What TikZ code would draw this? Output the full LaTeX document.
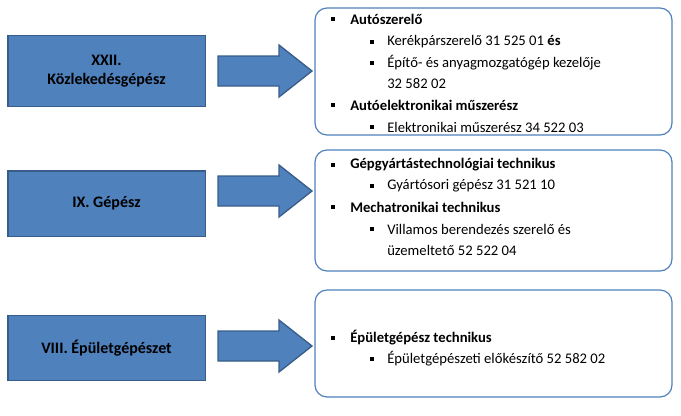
\documentclass[tikz,border=0pt]{standalone}
\usepackage{fontspec}
\setmainfont{Carlito}
\definecolor{bfill}{HTML}{4F81BD}
\definecolor{bline}{HTML}{385D8A}
\tikzset{
 leftbox/.style={draw=bline,line width=1pt,fill=bfill,font=\fontsize{12}{14}\selectfont\bfseries,align=center,minimum width=148pt,minimum height=51pt,inner sep=0pt},
 bigarrow/.style={draw=bline,line width=1pt,fill=bfill},
 rightbox/.style={draw=bfill,line width=0.9pt,fill=white,rounded corners=9pt},
 tl/.style={anchor=west,font=\fontsize{11}{13}\selectfont,inner sep=0pt},
 tb/.style={tl,font=\fontsize{11}{13}\selectfont\bfseries},
 sq/.style={fill=black,minimum size=3.6pt,inner sep=0pt},
}
\newcommand{\blockarrow}[2]{%
 \coordinate (#1) at (265,#2);
 \draw[bigarrow] ([shift={(-47,-15)}]#1) -- ([shift={(14,-15)}]#1) -- ([shift={(14,-26)}]#1) -- ([shift={(47,0)}]#1) -- ([shift={(14,26)}]#1) -- ([shift={(14,15)}]#1) -- ([shift={(-47,15)}]#1) -- cycle;}
\begin{document}
\begin{tikzpicture}[x=0.75pt,y=-0.75pt]
\useasboundingbox (0,0) rectangle (681,415);
\node[leftbox,minimum height=53pt] (l1) at (106.5,71) {XXII.\\Közlekedésgépész};
\node[leftbox,minimum height=49pt] (l2) at (106.5,203.5) {IX. Gépész};
\node[leftbox,minimum height=49pt] (l3) at (106.5,348) {VIII. Épületgépészet};
\blockarrow{a1}{71}
\blockarrow{a2}{191}
\blockarrow{a3}{346}
\draw[rightbox] (315,8) rectangle (672,135);
\draw[rightbox] (315,150) rectangle (672,271);
\draw[rightbox] (315,290) rectangle (672,397);
\node[sq] (b1) at (333,19) {}; \node[tb] (t1) at (350,19) {Autószerelő};
\node[sq] (b2) at (372,42) {}; \node[tl] (t2) at (387,42) {Kerékpárszerelő 31 525 01 \textbf{és}};
\node[sq] (b3) at (372,63) {}; \node[tl] (t3) at (387,63) {Építő- és anyagmozgatógép kezelője};
\node[tl] (t4) at (387,84) {32 582 02};
\node[sq] (b5) at (333,105) {}; \node[tb] (t5) at (350,105) {Autóelektronikai műszerész};
\node[sq] (b6) at (372,127) {}; \node[tl] (t6) at (387,127) {Elektronikai műszerész 34 522 03};
\node[sq] (c1) at (333,165) {}; \node[tb] (u1) at (350,165) {Gépgyártástechnológiai technikus};
\node[sq] (c2) at (372,186) {}; \node[tl] (u2) at (387,186) {Gyártósori gépész 31 521 10};
\node[sq] (c3) at (333,207) {}; \node[tb] (u3) at (350,207) {Mechatronikai technikus};
\node[sq] (c4) at (372,229) {}; \node[tl] (u4) at (387,229) {Villamos berendezés szerelő és};
\node[tl] (u5) at (387,250) {üzemeltető 52 522 04};
\node[sq] (d1) at (333,338) {}; \node[tb] (v1) at (350,338) {Épületgépész technikus};
\node[sq] (d2) at (372,359) {}; \node[tl] (v2) at (387,359) {Épületgépészeti előkészítő 52 582 02};
\end{tikzpicture}
\end{document}
